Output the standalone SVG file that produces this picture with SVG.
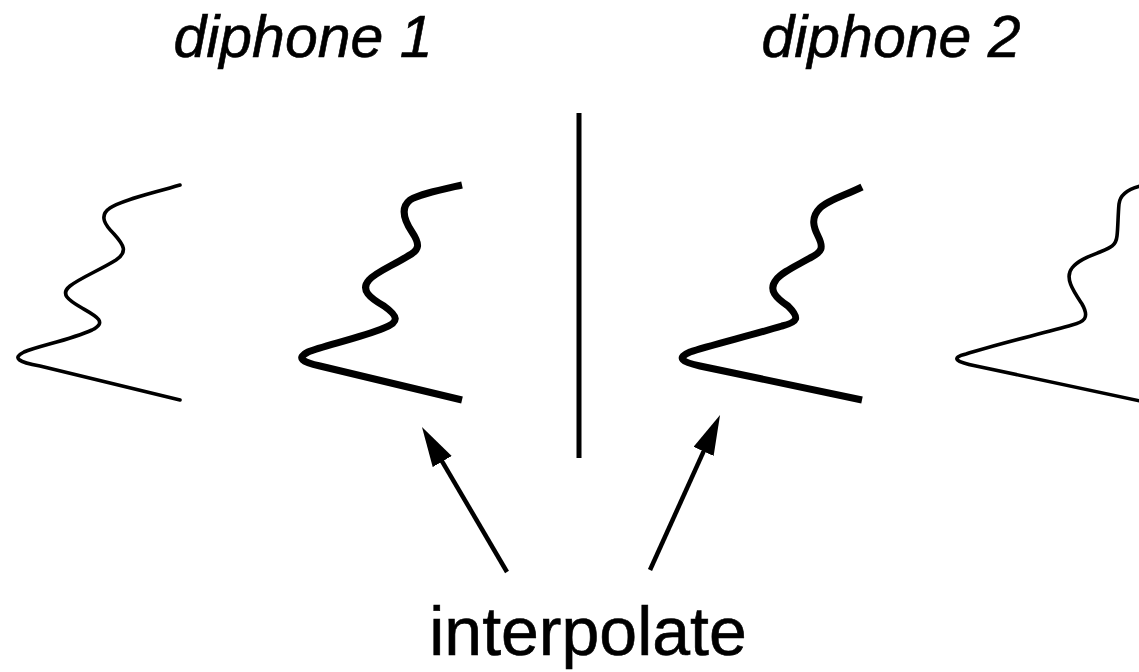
<svg xmlns="http://www.w3.org/2000/svg" width="1139" height="672" viewBox="0 0 1139 672">
  <style>
    .title { font-family: "Liberation Sans", Arial, sans-serif; font-style: italic; font-size: 59px; fill: #000; text-anchor: middle; stroke: #000; stroke-width: 0.6; }
    .label { font-family: "Liberation Sans", Arial, sans-serif; font-size: 68px; fill: #000; text-anchor: middle; stroke: #000; stroke-width: 0.6; }
    .thin { fill: none; stroke: #000; stroke-width: 3.6; stroke-linecap: round; stroke-linejoin: round; }
    .thick { fill: none; stroke: #000; stroke-width: 7; stroke-linecap: butt; stroke-linejoin: round; }
    .divider { stroke: #000; stroke-width: 5; }
    .arrow { stroke: #000; stroke-width: 4.5; fill: none; }
  </style>
  <defs>
    <marker id="head" markerUnits="userSpaceOnUse" markerWidth="44" markerHeight="26" refX="2" refY="11" orient="auto">
      <path d="M0,0 L40,11 L0,22 z" fill="#000"/>
    </marker>
  </defs>
  <rect width="1139" height="672" fill="#fff"/>

  <!-- headings -->
  <g id="label-diphone1"><text class="title" x="303" y="57">diphone 1</text></g>
  <g id="label-diphone2"><text class="title" x="891" y="57">diphone 2</text></g>

  <!-- spectral envelope, diphone 1 start -->
  <g id="envelope-1">
    <path class="thin" d="M180,185 C150,194 122,200 110,208 C98,216 106,226 114,234 C124,245 128,252 116,260 C100,270 80,278 70,286 C60,294 68,300 82,308 C96,316 108,322 92,330 C70,340 38,346 24,352 C12,358 18,362 40,366 L180,400"/>
  </g>
  <!-- spectral envelope, diphone 1 end (boundary) -->
  <g id="envelope-2">
    <path class="thick" d="M462,185 C440,190 420,194 410,200 C400,208 404,220 412,232 C420,244 420,250 408,256 C392,266 376,272 369,280 C360,290 370,298 384,306 C398,316 400,322 384,328 C360,338 322,346 308,352 C296,358 302,362 320,366 L462,400"/>
  </g>
  <!-- concatenation point -->
  <g id="boundary">
    <line class="divider" x1="579" y1="113" x2="579" y2="458"/>
  </g>
  <!-- spectral envelope, diphone 2 start (boundary) -->
  <g id="envelope-3">
    <path class="thick" d="M862,187 C846,195 828,200 820,208 C810,218 814,228 818,236 C824,248 822,252 810,258 C796,266 782,272 776,280 C768,290 776,298 788,306 C800,318 798,322 782,326 C756,334 708,346 690,352 C676,358 682,362 700,366 L862,400"/>
  </g>
  <!-- spectral envelope, diphone 2 end -->
  <g id="envelope-4">
    <path class="thin" d="M1145,185 C1130,188 1120,194 1119,204 C1118,214 1118,228 1117,236 C1116,246 1110,248 1100,252 C1090,256 1078,260 1072,268 C1064,278 1074,292 1082,304 C1090,318 1084,322 1072,325 C1040,334 990,346 966,354 C950,358 956,362 976,366 L1145,402"/>
  </g>

  <g id="label-interpolate"><text class="label" x="588" y="655">interpolate</text></g>

  <!-- arrows pointing at the boundary envelopes -->
  <g id="connectors">
    <line class="arrow" x1="507" y1="572" x2="441.2" y2="459.8" marker-end="url(#head)"/>
    <line class="arrow" x1="650" y1="570" x2="704.4" y2="449.6" marker-end="url(#head)"/>
  </g>
</svg>
